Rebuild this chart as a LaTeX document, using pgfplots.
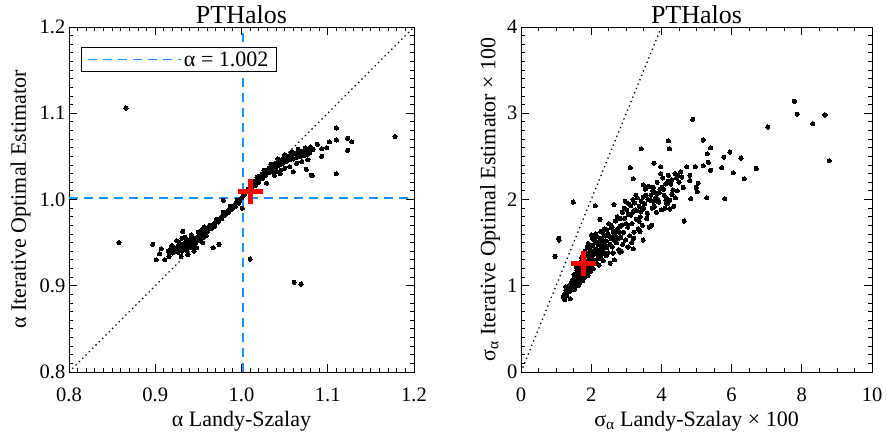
\documentclass[border=0pt]{standalone}
\usepackage{pgfplots}
\pgfplotsset{compat=1.18}
\usepackage{fontspec}
\setmainfont{Liberation Serif}
\definecolor{lblue}{RGB}{30,144,255}
\definecolor{pred}{RGB}{255,0,0}
\tikzset{bluedash/.style={draw=lblue, line width=1.5pt, dash pattern=on 9pt off 6pt}}
\pgfplotsset{
  every axis/.append style={font=\fontsize{22}{26}\selectfont, line width=0.8pt},
  myax/.style={scale only axis, anchor=south west, tick align=inside,
    major tick length=8pt, minor tick length=4pt,
    /pgf/number format/assume math mode=true,
    title style={font=\fontsize{26}{30}\selectfont, yshift=-6pt},
    tick label style={font=\fontsize{20.5}{24}\selectfont},
    xticklabel style={yshift=-12pt},
    xlabel style={yshift=-2.5pt},
    every tick/.style={line width=0.8pt}},
  dots/.style={only marks, mark=*, mark size=2.1pt, mark options={draw=black, fill=black, line width=0pt}, forget plot},
}
\pgfplotstableread{
x y
0.915 0.940
0.918 0.943
0.920 0.938
0.921 0.945
0.923 0.941
0.925 0.944
0.926 0.939
0.927 0.947
0.928 0.942
0.930 0.945
0.931 0.940
0.932 0.948
0.933 0.943
0.934 0.950
0.935 0.945
0.936 0.941
0.937 0.948
0.938 0.952
0.939 0.946
0.940 0.944
0.941 0.950
0.942 0.954
0.943 0.948
0.944 0.951
0.945 0.946
0.946 0.955
0.947 0.950
0.948 0.953
0.949 0.957
0.950 0.952
0.951 0.955
0.952 0.958
0.953 0.954
0.954 0.957
0.955 0.960
0.956 0.956
0.957 0.959
0.958 0.961
0.959 0.958
0.960 0.962
0.925 0.952
0.930 0.934
0.935 0.956
0.942 0.959
0.945 0.940
0.950 0.962
0.938 0.936
0.928 0.950
0.948 0.944
0.955 0.950
0.920 0.946
0.931 0.955
0.954 0.965
0.960 0.9645
0.962 0.966
0.964 0.968
0.966 0.970
0.968 0.972
0.970 0.974
0.972 0.975
0.974 0.977
0.976 0.979
0.978 0.981
0.980 0.983
0.982 0.985
0.984 0.987
0.986 0.988
0.988 0.990
0.990 0.992
0.992 0.994
0.994 0.996
0.996 0.998
0.998 1.000
1.000 1.002
0.965 0.966
0.969 0.969
0.973 0.974
0.977 0.978
0.981 0.982
0.985 0.985
0.989 0.989
0.993 0.992
0.997 0.996
0.963 0.970
0.971 0.977
0.979 0.985
0.987 0.992
0.995 0.999
1.002 1.004
1.004 1.007
1.006 1.009
1.008 1.012
1.010 1.014
1.012 1.016
1.014 1.019
1.016 1.021
1.018 1.023
1.020 1.025
1.022 1.027
1.024 1.029
1.026 1.031
1.028 1.033
1.030 1.034
1.032 1.036
1.034 1.038
1.036 1.039
1.038 1.041
1.040 1.042
1.042 1.043
1.044 1.045
1.046 1.046
1.048 1.047
1.050 1.048
1.052 1.049
1.054 1.050
1.056 1.051
1.058 1.052
1.060 1.053
1.062 1.053
1.064 1.054
1.066 1.055
1.068 1.055
1.070 1.056
1.072 1.056
1.074 1.057
1.076 1.057
1.078 1.058
1.012 1.012
1.016 1.016
1.020 1.020
1.024 1.024
1.028 1.028
1.032 1.031
1.036 1.034
1.040 1.037
1.044 1.040
1.048 1.042
1.052 1.044
1.056 1.046
1.060 1.047
1.064 1.049
1.068 1.050
1.072 1.051
1.076 1.052
1.018 1.026
1.026 1.034
1.034 1.041
1.042 1.047
1.050 1.052
1.058 1.055
1.066 1.058
1.074 1.060
1.080 1.061
1.079 1.054
1.083 1.058
1.041 1.032
1.046 1.034
1.060 1.032
1.056 1.038
1.050 1.036
1.064 1.042
1.070 1.044
1.075 1.035
1.077 1.046
1.081 1.028
1.029 1.019
1.038 1.028
1.045 1.030
0.866 1.106
1.178 1.073
1.110 1.083
1.110 1.069
1.123 1.071
1.128 1.067
1.123 1.057
1.110 1.030
1.082 1.028
1.088 1.064
1.093 1.059
1.099 1.060
1.102 1.067
1.093 1.050
0.858 0.950
0.897 0.948
0.901 0.930
0.905 0.937
0.907 0.943
0.911 0.930
0.916 0.934
0.919 0.946
0.932 0.963
0.957 0.968
0.967 0.944
0.974 0.948
0.979 0.999
1.001 0.990
1.010 0.931
1.061 0.904
1.069 0.902
}\leftdata
\pgfplotstableread{
x y
1.21 0.87
1.25 0.91
1.28 0.95
1.30 0.89
1.33 0.98
1.36 0.93
1.38 1.00
1.40 0.85
1.35 0.96
1.27 0.99
1.24 0.84
1.32 0.92
1.39 0.97
1.42 1.03
1.44 0.95
1.46 1.02
1.48 1.07
1.50 0.99
1.52 1.10
1.54 1.04
1.56 1.14
1.58 1.01
1.60 1.08
1.62 1.17
1.64 1.05
1.66 1.12
1.68 1.20
1.70 1.09
1.47 0.97
1.55 1.07
1.63 1.00
1.69 1.15
1.51 1.13
1.59 1.18
1.67 1.03
1.53 0.96
1.61 1.12
1.57 1.22
1.65 1.24
1.72 1.13
1.74 1.24
1.76 1.06
1.78 1.18
1.80 1.30
1.82 1.10
1.84 1.22
1.86 1.35
1.88 1.15
1.90 1.27
1.92 1.38
1.94 1.19
1.96 1.31
1.98 1.42
2.00 1.23
1.73 1.33
1.79 1.09
1.85 1.28
1.91 1.12
1.97 1.36
1.75 1.21
1.81 1.25
1.87 1.20
1.93 1.30
1.99 1.17
1.77 1.37
1.83 1.40
1.89 1.45
1.95 1.25
1.71 1.28
2.02 1.34
2.04 1.47
2.06 1.20
2.08 1.38
2.10 1.52
2.12 1.28
2.14 1.43
2.16 1.57
2.18 1.31
2.20 1.48
2.22 1.24
2.24 1.40
2.26 1.55
2.28 1.35
2.30 1.50
2.32 1.62
2.34 1.29
2.36 1.45
2.38 1.58
2.40 1.37
2.05 1.30
2.11 1.41
2.17 1.37
2.23 1.51
2.29 1.44
2.35 1.52
2.03 1.55
2.09 1.26
2.15 1.50
2.21 1.35
2.27 1.63
2.33 1.40
2.39 1.49
2.13 1.60
2.25 1.32
2.37 1.66
2.42 1.52
2.45 1.65
2.48 1.38
2.51 1.58
2.54 1.26
2.57 1.70
2.60 1.45
2.63 1.62
2.66 1.30
2.69 1.75
2.72 1.50
2.75 1.66
2.78 1.42
2.81 1.78
2.84 1.56
2.87 1.70
2.90 1.48
2.44 1.44
2.50 1.72
2.56 1.55
2.62 1.38
2.68 1.58
2.74 1.80
2.80 1.62
2.86 1.40
2.47 1.60
2.53 1.48
2.59 1.67
2.65 1.53
2.71 1.63
2.77 1.55
2.83 1.69
2.89 1.85
2.43 1.35
2.82 1.39
2.92 1.62
2.95 1.78
2.98 1.53
3.01 1.88
3.04 1.68
3.07 1.95
3.10 1.58
3.13 1.82
3.16 1.72
3.19 2.00
3.22 1.62
3.25 1.88
3.28 1.77
3.31 2.02
3.34 1.66
3.37 1.92
3.40 1.80
3.43 1.98
3.46 1.70
3.49 1.90
2.94 1.90
3.00 1.72
3.06 1.83
3.12 1.93
3.18 1.85
3.24 1.96
3.30 1.87
3.36 1.75
3.42 1.86
3.48 2.03
3.20 1.43
3.21 1.55
3.48 1.53
3.15 1.50
3.05 1.45
2.97 1.98
3.27 2.05
3.39 1.63
3.52 1.95
3.56 2.05
3.60 1.84
3.64 2.15
3.68 1.99
3.72 1.70
3.76 2.10
3.80 1.92
3.84 2.02
3.88 2.20
3.92 1.97
3.96 2.12
4.00 1.88
4.04 2.25
4.08 2.05
4.12 2.18
4.16 1.95
4.20 2.28
3.58 1.78
3.66 1.68
3.74 1.90
3.82 2.08
3.90 2.00
3.98 2.30
4.06 2.12
4.14 2.02
3.54 2.12
3.62 2.00
3.70 2.05
3.78 1.98
3.86 1.85
3.94 2.08
4.02 2.14
4.10 1.90
4.18 2.21
3.77 2.14
3.91 1.99
4.24 1.99
4.27 2.18
4.29 2.23
4.33 2.11
4.39 2.30
4.43 2.25
4.47 2.28
4.55 2.32
4.62 2.14
4.65 1.75
4.24 1.89
4.30 2.06
4.35 1.92
4.40 2.02
4.45 2.10
4.50 2.20
4.58 2.26
4.72 2.38
4.81 2.28
4.81 2.22
4.84 2.01
4.96 2.38
4.99 2.14
5.02 2.09
5.05 2.19
0.97 1.34
1.07 1.55
1.09 1.53
1.49 1.97
2.12 1.93
2.65 1.94
2.25 1.77
2.01 1.59
1.92 1.49
3.43 2.59
3.11 2.37
3.20 2.24
3.48 2.17
3.62 2.15
3.79 2.42
3.98 2.38
3.88 2.07
4.20 2.68
4.23 2.59
4.89 2.93
5.19 2.69
5.40 2.60
5.31 2.53
5.34 2.43
5.40 2.34
5.19 2.39
5.95 2.55
5.78 2.49
6.27 2.48
5.72 2.37
6.05 2.31
6.36 2.24
6.70 2.36
5.29 2.02
5.80 2.01
7.03 2.84
7.79 3.14
7.87 2.99
8.31 2.88
8.66 2.98
8.78 2.45
3.66 1.68
4.13 1.99
}\rightdata
\begin{document}
\begin{tikzpicture}
\path[use as bounding box] (0,0) rectangle (887pt,433pt);
\begin{axis}[myax, at={(69pt,61pt)}, width=345pt, height=345pt,
  xmin=0.8, xmax=1.2, ymin=0.8, ymax=1.2,
  xtick={0.8,0.9,1.0,1.1,1.2}, ytick={0.8,0.9,1.0,1.1,1.2},
  minor x tick num=9, minor y tick num=9,
  xticklabel style={/pgf/number format/.cd, fixed, fixed zerofill, precision=1},
  yticklabel style={/pgf/number format/.cd, fixed, fixed zerofill, precision=1},
  title={PTHalos},
  xlabel={α Landy-Szalay}, ylabel={α Iterative Optimal Estimator},
  ylabel style={yshift=2pt},
  legend style={at={(0.035,0.942)}, anchor=north west, draw=black,
    fill=white, inner xsep=6pt, inner ysep=2pt},
  legend image code/.code={%
    \pgfsetlinewidth{1.5pt}%
    \pgfsetstrokecolor{lblue}%
    \pgfsetdash{{9pt}{6pt}}{0pt}%
    \pgfpathmoveto{\pgfpointorigin}%
    \pgfpathlineto{\pgfpoint{93pt}{0pt}}%
    \pgfusepath{stroke}},
]
\addplot[bluedash, forget plot] coordinates {(0.8,1.002) (1.2,1.002)};
\addplot[bluedash] coordinates {(1.002,0.8) (1.002,1.2)};
\addlegendentry{α = 1.002}
\addplot[black, line width=1.3pt, dash pattern=on 1.3pt off 3.4pt, forget plot] coordinates {(0.8,0.8) (1.2,1.2)};
\addplot[dots] table[x=x,y=y] {\leftdata};
\addplot[only marks, mark=+, mark size=12.5pt, mark options={draw=pred, line width=5pt}, forget plot] coordinates {(1.010,1.009)};
\end{axis}
\begin{axis}[myax, at={(521pt,61pt)}, width=351pt, height=345pt,
  xmin=0, xmax=10, ymin=0, ymax=4,
  xtick={0,2,4,6,8,10}, ytick={0,1,2,3,4},
  minor x tick num=3, minor y tick num=9,
  title={PTHalos},
  xlabel={σ\textsubscript{α} Landy-Szalay × 100}, ylabel={σ\textsubscript{α} Iterative Optimal Estimator × 100},
]
\addplot[black, line width=1.3pt, dash pattern=on 1.3pt off 3.4pt, forget plot] coordinates {(0,0) (4,4)};
\addplot[dots] table[x=x,y=y] {\rightdata};
\addplot[only marks, mark=+, mark size=12.5pt, mark options={draw=pred, line width=5pt}, forget plot] coordinates {(1.77,1.26)};
\end{axis}
\end{tikzpicture}
\end{document}
